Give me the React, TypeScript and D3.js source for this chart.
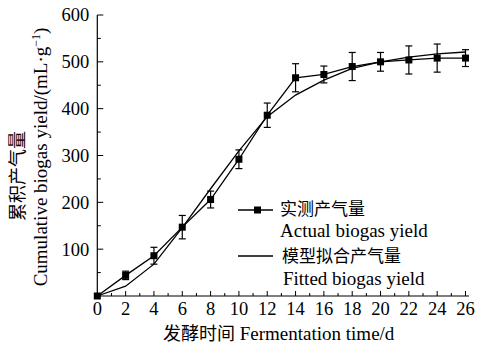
import React from 'react'
import * as d3 from 'd3'

// Fermentation time (d)
const days = [0, 2, 4, 6, 8, 10, 12, 14, 16, 18, 20, 22, 24, 26]
// Actual cumulative biogas yield (mL/g) and its error
const actual = [0, 44, 86, 147, 206, 292, 386, 466, 473, 490, 500, 504, 508, 508]
const actualErr = [0, 9, 18, 25, 18, 20, 26, 30, 18, 30, 20, 30, 30, 18]
// Fitted model yield
const fitted = [0, 21, 68, 146, 229, 310, 383, 429, 461, 486, 500, 510, 517, 521]

const xTicks = [0, 2, 4, 6, 8, 10, 12, 14, 16, 18, 20, 22, 24, 26]
const yTicks = [100, 200, 300, 400, 500, 600]

const SERIF = '"Liberation Serif", "Times New Roman", serif'
const CJK = '"Noto Sans CJK SC", sans-serif'

export default function App() {
  const width = 478
  const height = 344
  const x = d3.scaleLinear().domain([0, 26]).range([97.3, 465.5])
  const y = d3.scaleLinear().domain([0, 600]).range([296, 15])
  const x0 = x(0)
  const y0 = y(0)

  const actualPts = days.map((d, i) => ({ d, v: actual[i], e: actualErr[i] }))
  const fittedPts = days.map((d, i) => ({ d, v: fitted[i] }))

  const line = d3.line<{ d: number; v: number }>()
    .x(p => x(p.d))
    .y(p => y(p.v))

  const minorX = d3.range(1, 27, 2)
  const minorY = d3.range(50, 600, 100)

  return (
    <svg width={width} height={height} style={{ position: 'absolute', left: 0, top: 0, background: '#fff' }}
      fontFamily={SERIF}>
      {/* axes */}
      <line x1={x0} x2={x0} y1={y(600)} y2={y0} stroke="#000" strokeWidth={1.2} />
      <line x1={x0} x2={469} y1={y0} y2={y0} stroke="#000" strokeWidth={1.2} />

      {yTicks.map(t => (
        <g key={'y' + t}>
          <line x1={x0} x2={x0 + 6} y1={y(t)} y2={y(t)} stroke="#000" strokeWidth={1} />
          <text x={x0 - 8} y={y(t)} dy="0.35em" textAnchor="end" fontSize={18.5}>{t}</text>
        </g>
      ))}
      {minorY.map(t => (
        <line key={'my' + t} x1={x0} x2={x0 + 3.5} y1={y(t)} y2={y(t)} stroke="#000" strokeWidth={1} />
      ))}
      {xTicks.map(t => (
        <g key={'x' + t}>
          {t > 0 && <line x1={x(t)} x2={x(t)} y1={y0} y2={y0 - 5} stroke="#000" strokeWidth={1} />}
          <text x={x(t)} y={315} textAnchor="middle" fontSize={18.5}>{t}</text>
        </g>
      ))}
      {minorX.map(t => (
        <line key={'mx' + t} x1={x(t)} x2={x(t)} y1={y0} y2={y0 - 3} stroke="#000" strokeWidth={1} />
      ))}

      {/* axis titles */}
      <text x={163} y={340} fontSize={19}>
        <tspan fontFamily={CJK} fontSize={18}>发酵时间</tspan> Fermentation time/d
      </text>
      <g transform="translate(24,176) rotate(-90)">
        <text x={0} y={0} textAnchor="middle" fontSize={18} fontFamily={CJK}>累积产气量</text>
      </g>
      <g transform="translate(47,157) rotate(-90)">
        <text x={0} y={0} textAnchor="middle" fontSize={19}>
          Cumulative biogas yield/(mL·g<tspan dy={-7} fontSize={12}>−1</tspan><tspan dy={7}>)</tspan>
        </text>
      </g>

      {/* fitted line */}
      <path d={line(fittedPts) ?? ''} fill="none" stroke="#000" strokeWidth={1.3} />

      {/* actual line with error bars */}
      <path d={line(actualPts) ?? ''} fill="none" stroke="#000" strokeWidth={1.3} />
      {actualPts.filter(p => p.e > 0).map(p => (
        <g key={'e' + p.d} stroke="#000" strokeWidth={1.2}>
          <line x1={x(p.d)} x2={x(p.d)} y1={y(p.v + p.e)} y2={y(p.v - p.e)} />
          <line x1={x(p.d) - 3.5} x2={x(p.d) + 3.5} y1={y(p.v + p.e)} y2={y(p.v + p.e)} />
          <line x1={x(p.d) - 3.5} x2={x(p.d) + 3.5} y1={y(p.v - p.e)} y2={y(p.v - p.e)} />
        </g>
      ))}
      {actualPts.map(p => (
        <rect key={'m' + p.d} x={x(p.d) - 3.5} y={y(p.v) - 3.5} width={7} height={7} fill="#000" />
      ))}

      {/* legend */}
      <g>
        <line x1={238} x2={273} y1={210} y2={210} stroke="#000" strokeWidth={1.3} />
        <rect x={254} y={206.5} width={7} height={7} fill="#000" />
        <text x={280} y={215} fontSize={17} fontFamily={CJK}>实测产气量</text>
        <text x={280} y={237} fontSize={19}>Actual biogas yield</text>
        <line x1={238} x2={273} y1={256} y2={256} stroke="#000" strokeWidth={1.3} />
        <text x={282} y={261.5} fontSize={17} fontFamily={CJK}>模型拟合产气量</text>
        <text x={283} y={285} fontSize={19}>Fitted biogas yield</text>
      </g>
    </svg>
  )
}
